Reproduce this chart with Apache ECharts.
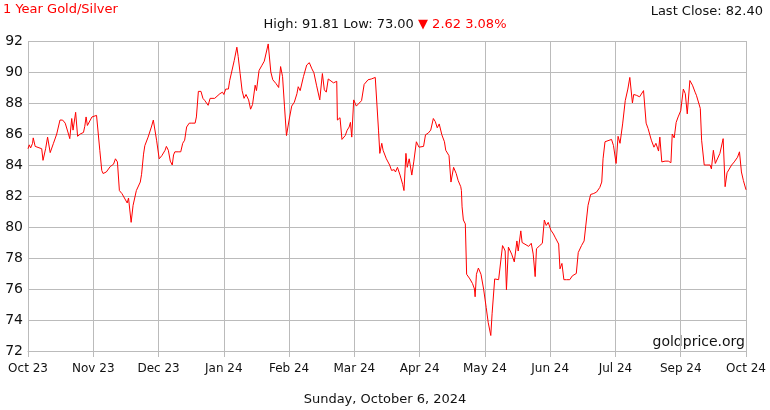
<!DOCTYPE html>
<html>
<head>
<meta charset="utf-8">
<script src="https://cdn.jsdelivr.net/npm/echarts@6/dist/echarts.min.js"></script>
<style>
html,body{margin:0;padding:0;background:#fff;}
#c{width:770px;height:410px;}
</style>
</head>
<body>
<div id="c"></div>
<script>
// Tick labels (evenly spaced along the x axis)
var tickLabels = ['Oct 23','Nov 23','Dec 23','Jan 24','Feb 24','Mar 24','Apr 24','May 24','Jun 24','Jul 24','Sep 24','Oct 24'];

// Position of each observation along the x axis (in tick-interval units, 0..11)
var positions = [
0,0.02,0.04,0.07,0.08,0.11,0.13,0.21,0.23,0.27,0.30,0.34,0.39,0.44,0.46,0.49,0.53,0.57,0.62,0.64,
0.67,0.69,0.73,0.76,0.80,0.85,0.87,0.89,0.91,0.94,0.98,1.05,1.07,1.10,1.13,1.15,1.20,1.26,1.31,1.34,
1.37,1.40,1.44,1.52,1.54,1.58,1.61,1.66,1.72,1.74,1.77,1.79,1.84,1.89,1.92,1.95,1.97,2.01,2.05,2.10,
2.12,2.15,2.18,2.21,2.23,2.25,2.30,2.34,2.37,2.40,2.43,2.47,2.51,2.56,2.58,2.61,2.65,2.68,2.71,2.76,
2.79,2.81,2.86,2.89,2.94,2.98,3.00,3.03,3.07,3.09,3.12,3.16,3.20,3.22,3.25,3.28,3.31,3.34,3.38,3.41,
3.44,3.48,3.50,3.54,3.58,3.62,3.65,3.68,3.72,3.75,3.80,3.84,3.87,3.90,3.93,3.96,4.00,4.04,4.08,4.12,
4.14,4.17,4.22,4.27,4.31,4.35,4.38,4.42,4.47,4.51,4.54,4.57,4.60,4.63,4.68,4.70,4.73,4.74,4.78,4.81,
4.86,4.89,4.92,4.94,4.96,4.99,5.03,5.06,5.11,5.15,5.18,5.21,5.26,5.32,5.33,5.37,5.39,5.42,5.44,5.49,
5.54,5.57,5.61,5.63,5.66,5.70,5.74,5.76,5.79,5.81,5.84,5.88,5.91,5.95,5.99,6.02,6.06,6.09,6.13,6.17,
6.21,6.24,6.27,6.30,6.34,6.38,6.40,6.43,6.45,6.48,6.52,6.56,6.59,6.63,6.64,6.65,6.67,6.70,6.72,6.77,
6.81,6.84,6.85,6.87,6.90,6.94,6.98,7.02,7.05,7.09,7.11,7.15,7.21,7.24,7.27,7.29,7.31,7.33,7.36,7.41,
7.45,7.49,7.51,7.55,7.57,7.63,7.67,7.71,7.74,7.77,7.79,7.84,7.88,7.91,7.94,7.97,8.01,8.05,8.08,8.13,
8.15,8.18,8.21,8.25,8.30,8.34,8.40,8.43,8.48,8.52,8.55,8.58,8.62,8.66,8.71,8.76,8.79,8.81,8.84,8.87,
8.94,8.97,9.01,9.04,9.07,9.11,9.15,9.19,9.22,9.26,9.28,9.32,9.37,9.43,9.47,9.50,9.55,9.59,9.62,9.66,
9.68,9.71,9.76,9.81,9.85,9.87,9.90,9.93,9.96,10.00,10.04,10.07,10.10,10.14,10.18,10.22,10.24,10.27,10.30,10.32,
10.36,10.40,10.45,10.47,10.50,10.53,10.56,10.60,10.65,10.68,10.71,10.74,10.78,10.82,10.87,10.90,10.93,10.96,11.00
];

// Gold/Silver ratio values
var ratios = [
85.05,85.3,85.1,85.4,85.75,85.2,85.1,85.05,84.3,85.05,85.8,84.8,85.4,86.0,86.0,86.9,86.9,86.7,86.0,85.7,
87.0,86.25,87.4,85.85,86.0,86.1,86.5,87.1,86.55,86.55,87.1,87.2,87.1,84.95,83.65,83.45,83.55,83.9,84.05,84.4,
84.2,82.35,82.15,81.55,81.87,80.3,81.4,82.35,82.9,83.4,84.7,85.25,85.8,86.45,86.9,86.9,85.6,84.4,84.6,84.95,
85.2,84.95,84.25,84.0,84.65,84.85,84.85,84.85,85.4,85.6,86.45,86.7,86.7,86.7,87.1,88.75,88.75,88.3,88.15,87.85,
88.3,88.4,88.3,88.4,88.6,88.7,88.55,88.9,88.9,89.45,90.0,90.75,91.6,91.0,89.9,88.8,88.3,88.55,88.2,87.6,
87.9,89.15,88.8,90.1,90.4,90.7,90.8,91.81,90.0,89.5,89.25,89.0,90.35,89.7,87.75,85.9,86.9,87.8,88.05,88.6,
89.05,88.8,89.7,90.45,90.6,90.2,89.95,89.15,88.2,89.9,88.85,88.7,89.55,89.45,89.3,89.25,89.4,86.9,87.05,85.65,
85.9,86.25,86.45,86.75,85.8,88.2,87.8,87.9,88.15,89.2,89.25,89.5,89.55,89.65,89.7,86.25,84.75,85.4,84.95,84.4,
84.0,83.65,83.7,83.55,83.85,83.35,82.75,82.35,84.75,83.85,84.4,83.35,84.2,85.5,85.15,85.2,85.2,85.95,86.05,86.25,
87.0,86.8,86.4,86.65,85.95,85.5,84.95,85.05,84.6,82.9,83.85,83.45,83.0,82.6,82.35,81.3,80.45,80.2,76.95,76.65,
76.35,76.0,75.5,76.95,77.35,76.95,76.0,74.8,73.85,73.0,74.4,76.65,76.6,76.55,78.8,78.65,78.45,75.95,78.7,78.25,
77.75,79.1,78.45,79.75,79.0,78.85,78.75,78.95,78.25,76.8,78.6,78.8,78.95,80.45,80.1,80.3,79.8,79.55,79.3,78.9,
77.3,77.65,76.6,76.6,76.6,76.85,77.0,78.35,78.8,79.1,79.0,81.4,82.1,82.15,82.25,82.55,82.9,84.4,85.5,85.6,
85.65,85.25,84.1,85.85,85.4,86.65,88.15,88.9,89.65,88.0,88.55,88.5,88.4,88.8,86.7,86.35,85.6,85.15,85.4,84.9,
85.8,84.2,84.25,84.25,84.15,86.0,85.75,86.75,87.1,87.5,88.9,88.6,87.3,89.45,89.15,88.7,88.5,88.6,87.65,85.6,
84.0,84.0,84.0,83.75,84.95,84.1,84.15,84.75,85.7,82.6,83.5,83.55,84.0,84.2,84.5,84.85,83.55,83.0,82.40
];

var chartTitle = '1 Year Gold/Silver';
var highText = 'High: 91.81 Low: 73.00 ';
var changeText = '\u25BC 2.62 3.08%';
var lastCloseText = 'Last Close: 82.40';
var dateText = 'Sunday, October 6, 2024';
var sourceText = 'goldprice.org';

var seriesData = positions.map(function (p, i) { return [p, ratios[i]]; });

var FONT = '"DejaVu Sans", Verdana, sans-serif';
var chart = echarts.init(document.getElementById('c'), null, {renderer: 'canvas'});
chart.setOption({
  animation: false,
  backgroundColor: '#ffffff',
  textStyle: {fontFamily: FONT},
  grid: {left: 28, right: 24, top: 41, bottom: 59, containLabel: false},
  title: [
    {text: chartTitle, left: 3, top: 3, padding: 0, textStyle: {color: '#ff0000', fontSize: 13, fontWeight: 'normal', fontFamily: FONT, lineHeight: 14}},
    {text: lastCloseText, right: 7, top: 5, padding: 0, textStyle: {color: '#111', fontSize: 13, fontWeight: 'normal', fontFamily: FONT, lineHeight: 14}},
    {text: '{b|' + highText + '}{r|' + changeText + '}', left: 'center', top: 18, padding: 0,
     textStyle: {fontSize: 13, fontWeight: 'normal', fontFamily: FONT, lineHeight: 14,
       rich: {b: {color: '#111', fontSize: 13, fontFamily: FONT, lineHeight: 14}, r: {color: '#ff0000', fontSize: 13, fontFamily: FONT, lineHeight: 14}}}},
    {text: dateText, left: 'center', top: 393, padding: 0, textStyle: {color: '#111', fontSize: 13, fontWeight: 'normal', fontFamily: FONT, lineHeight: 14}}
  ],
  graphic: [
    {type: 'text', right: 25, top: 335, style: {text: sourceText, fill: '#111', font: '14px "DejaVu Sans", Verdana, sans-serif'}}
  ],
  xAxis: {
    type: 'value', min: 0, max: 11, interval: 1,
    axisLine: {show: true, lineStyle: {color: '#bbbbbb', width: 1}},
    axisTick: {show: true, length: 6, lineStyle: {color: '#bbbbbb'}},
    splitLine: {show: true, lineStyle: {color: '#bbbbbb', width: 1}},
    axisLabel: {color: '#111', fontSize: 12, fontFamily: FONT, margin: 12,
      formatter: function (v) { return tickLabels[Math.round(v)] || ''; }}
  },
  yAxis: {
    type: 'value', min: 72, max: 92, interval: 2,
    axisLine: {show: false},
    axisTick: {show: false},
    splitLine: {show: true, lineStyle: {color: '#bbbbbb', width: 1}},
    axisLabel: {color: '#111', fontSize: 14, fontFamily: FONT, margin: 5}
  },
  series: [{
    type: 'line', data: seriesData, showSymbol: false, symbol: 'none',
    lineStyle: {color: '#ff0000', width: 1}, smooth: false
  }]
});
</script>
</body>
</html>
